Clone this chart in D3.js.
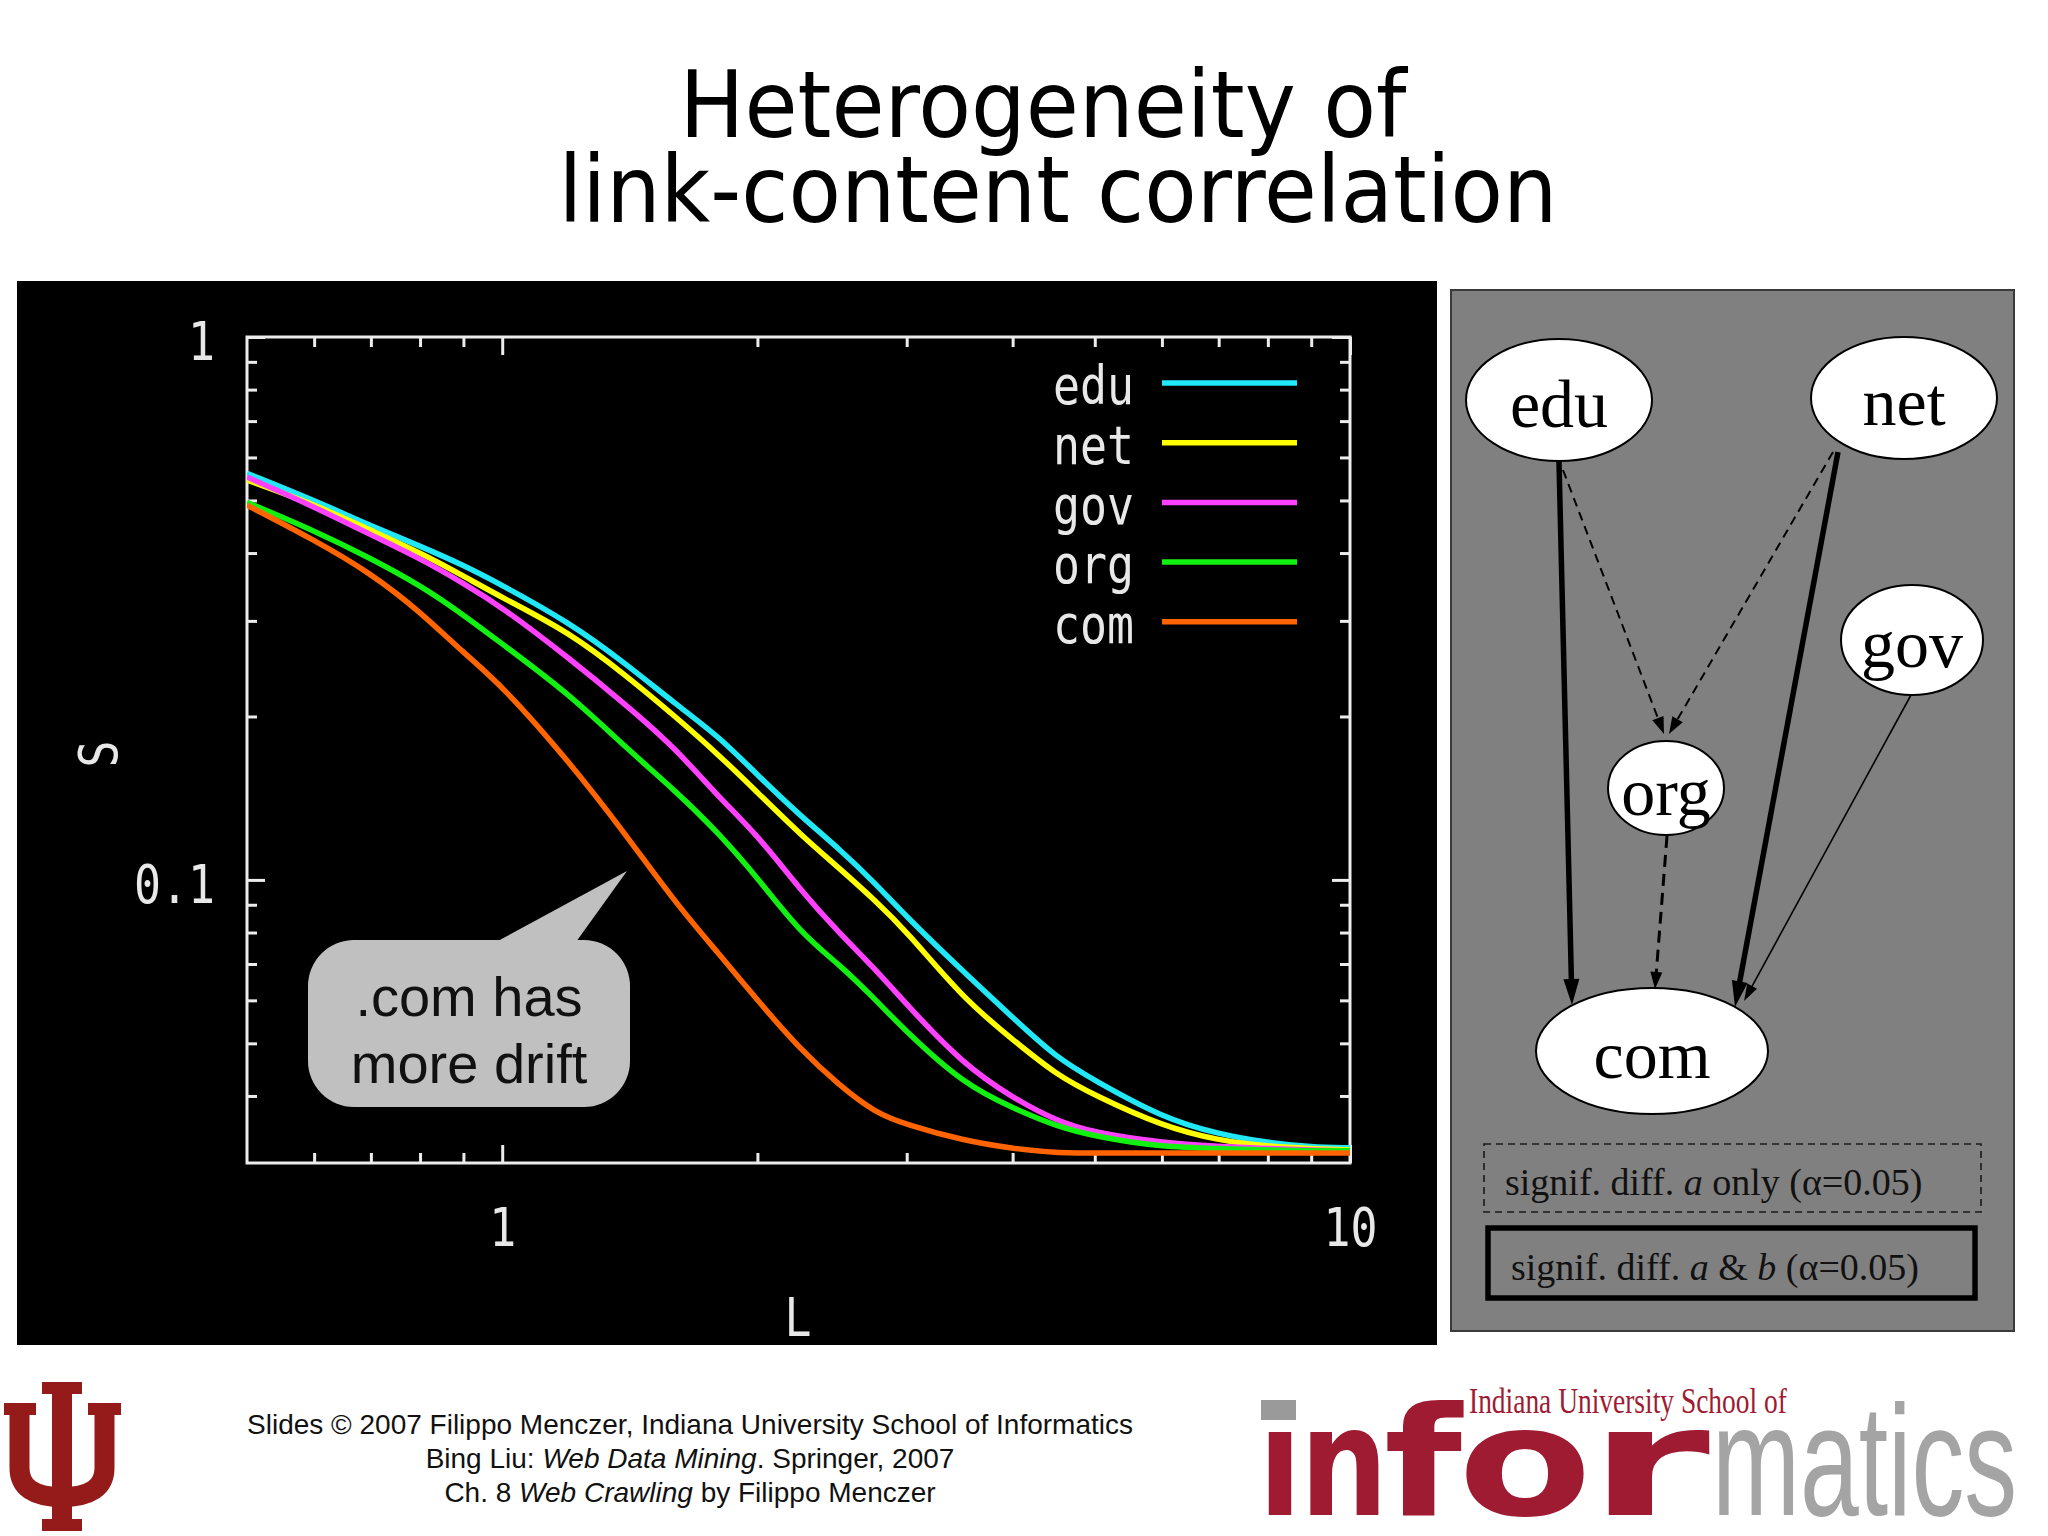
<!DOCTYPE html>
<html>
<head>
<meta charset="utf-8">
<script src="https://cdn.jsdelivr.net/npm/d3@7"></script>
<style>
body { margin: 0; background: #fff; }
svg { display: block; }
</style>
</head>
<body>
<div id="chart"></div>
<script>
// domains, in legend order
var domains = ["edu", "net", "gov", "org", "com"];
var lengths = [0.5, 0.6, 0.7, 0.8, 0.9, 1, 1.2, 1.4, 1.6, 1.8, 2, 2.25, 2.5, 2.75, 3, 3.5, 4, 4.5, 5, 6, 7, 8, 9, 10];
var sEdu = [0.561, 0.500, 0.449, 0.412, 0.380, 0.349, 0.298, 0.250, 0.211, 0.184, 0.156, 0.131, 0.114, 0.0988, 0.0854, 0.0677, 0.0558, 0.0471, 0.0427, 0.0365, 0.0340, 0.0328, 0.0322, 0.0321];
var sNet = [0.545, 0.492, 0.440, 0.401, 0.363, 0.331, 0.286, 0.238, 0.200, 0.170, 0.145, 0.121, 0.105, 0.0918, 0.0804, 0.0604, 0.0508, 0.0438, 0.0401, 0.0352, 0.0331, 0.0323, 0.0320, 0.0318];
var sGov = [0.552, 0.487, 0.432, 0.391, 0.352, 0.318, 0.256, 0.210, 0.175, 0.142, 0.121, 0.0956, 0.0797, 0.0687, 0.0589, 0.0457, 0.0397, 0.0360, 0.0342, 0.0328, 0.0323, 0.0320, 0.0318, 0.0317];
var sOrg = [0.496, 0.440, 0.391, 0.349, 0.308, 0.272, 0.220, 0.175, 0.146, 0.122, 0.101, 0.0797, 0.0698, 0.0604, 0.0524, 0.0421, 0.0380, 0.0352, 0.0337, 0.0322, 0.0320, 0.0318, 0.0317, 0.0317];
var sCom = [0.490, 0.423, 0.367, 0.312, 0.262, 0.228, 0.165, 0.121, 0.0908, 0.0732, 0.0600, 0.0486, 0.0418, 0.0373, 0.0354, 0.0331, 0.0320, 0.0314, 0.0314, 0.0314, 0.0314, 0.0314, 0.0314, 0.0314];

var xMajorTicks = [1, 10];
var xTickLabels = ["1", "10"];
var xMinorTicks = [0.6, 0.7, 0.8, 0.9, 2, 3, 4, 5, 6, 7, 8, 9];
var yMajorTicks = [1, 0.1];
var yTickLabels = ["1", "0.1"];
var yMinorTicks = [0.9, 0.8, 0.7, 0.6, 0.5, 0.4, 0.3, 0.2, 0.09, 0.08, 0.07, 0.06, 0.05, 0.04];

// significance graph between domains
var graphEdges = [["edu", "com", "ab"], ["net", "com", "ab"], ["gov", "com", "plain"],
                  ["edu", "org", "a"], ["net", "org", "a"], ["org", "com", "a"]];

var lineColors = ["#20e8f6", "#ffff00", "#ff40ff", "#12f012", "#ff6400"];
var series = [sEdu, sNet, sGov, sOrg, sCom];

var svg = d3.select("#chart").append("svg")
	.attr("width", 2048)
	.attr("height", 1536);

// stretch or squash a text horizontally to a given width
function fitText(sel, x0, y0, width) {
	sel.attr("x", 0).attr("y", 0)
		.attr("transform", function() {
			var w = this.getComputedTextLength();
			return "translate(" + x0 + "," + y0 + ") scale(" + (width / w) + ",1)";
		});
}

// title
var title = svg.append("g")
	.attr("font-family", "'DejaVu Sans', sans-serif")
	.attr("font-size", 92)
	.attr("text-anchor", "middle")
	.attr("fill", "#000");
title.append("text").attr("x", 1043).attr("y", 137)
	.attr("textLength", 727).attr("lengthAdjust", "spacingAndGlyphs")
	.text("Heterogeneity of");
title.append("text").attr("x", 1058).attr("y", 222)
	.attr("textLength", 999).attr("lengthAdjust", "spacingAndGlyphs")
	.text("link-content correlation");

// ---- left: gnuplot-style chart ----
svg.append("rect")
	.attr("x", 17).attr("y", 281)
	.attr("width", 1420).attr("height", 1064)
	.attr("fill", "#000");

var x = d3.scaleLog().domain([0.5, 10]).range([247, 1350]);
var y = d3.scaleLog().domain([0.0301, 1]).range([1163, 337]);

var monoFont = "'DejaVu Sans Mono', monospace";
var charW = 27;
function squeeze(sel) {
	sel.attr("font-family", monoFont)
		.attr("font-size", 53)
		.attr("fill", "#e8e8e8")
		.attr("textLength", function() { return this.textContent.length * charW; })
		.attr("lengthAdjust", "spacingAndGlyphs");
}

function drawAxis(axis, tx, ty) {
	var g = svg.append("g")
		.attr("transform", "translate(" + tx + "," + ty + ")")
		.attr("color", "#ececec")
		.call(axis);
	g.select(".domain").remove();
	g.selectAll(".tick line").attr("stroke-width", 3);
	g.selectAll(".tick text").call(squeeze);
	return g;
}

// major ticks with labels
drawAxis(d3.axisBottom(x).tickValues(xMajorTicks)
	.tickFormat(function(d, i) { return xTickLabels[i]; })
	.tickSize(-18).tickSizeOuter(0).tickPadding(45), 0, 1163);
drawAxis(d3.axisLeft(y).tickValues(yMajorTicks)
	.tickFormat(function(d, i) { return yTickLabels[i]; })
	.tickSize(-18).tickSizeOuter(0).tickPadding(32), 247, 0)
	.selectAll(".tick text").attr("dy", "0.43em");
drawAxis(d3.axisTop(x).tickValues(xMajorTicks).tickFormat("").tickSize(-18).tickSizeOuter(0), 0, 337);
drawAxis(d3.axisRight(y).tickValues(yMajorTicks).tickFormat("").tickSize(-18).tickSizeOuter(0), 1350, 0);
// minor ticks
drawAxis(d3.axisBottom(x).tickValues(xMinorTicks).tickFormat("").tickSize(-10).tickSizeOuter(0), 0, 1163);
drawAxis(d3.axisTop(x).tickValues(xMinorTicks).tickFormat("").tickSize(-10).tickSizeOuter(0), 0, 337);
drawAxis(d3.axisLeft(y).tickValues(yMinorTicks).tickFormat("").tickSize(-10).tickSizeOuter(0), 247, 0);
drawAxis(d3.axisRight(y).tickValues(yMinorTicks).tickFormat("").tickSize(-10).tickSizeOuter(0), 1350, 0);

svg.append("rect")
	.attr("x", 247).attr("y", 337)
	.attr("width", 1103).attr("height", 826)
	.attr("fill", "none")
	.attr("stroke", "#ececec")
	.attr("stroke-width", 3);

// axis titles
svg.append("text")
	.attr("transform", "translate(98,754) rotate(-90)")
	.attr("text-anchor", "middle").attr("dy", "0.35em")
	.text("S").call(squeeze);
svg.append("text")
	.attr("x", 798).attr("y", 1317)
	.attr("text-anchor", "middle").attr("dy", "0.35em")
	.text("L").call(squeeze);

// curves
svg.append("clipPath").attr("id", "plotClip")
	.append("rect").attr("x", 247).attr("y", 337).attr("width", 1106).attr("height", 826);

var line = d3.line()
	.x(function(d) { return x(d[0]); })
	.y(function(d) { return y(d[1]); })
	.curve(d3.curveBasis);

svg.append("g").attr("clip-path", "url(#plotClip)")
	.selectAll("path")
	.data(domains)
	.join("path")
	.attr("d", function(d, i) { return line(d3.zip(lengths, series[i])); })
	.attr("fill", "none")
	.attr("stroke", function(d, i) { return lineColors[i]; })
	.attr("stroke-width", 5.5)
	.attr("stroke-linejoin", "round");

// legend
var legend = svg.append("g").selectAll("g")
	.data(domains)
	.join("g")
	.attr("transform", function(d, i) { return "translate(0," + (383 + i * 59.7) + ")"; });
legend.append("line")
	.attr("x1", 1162).attr("x2", 1297)
	.attr("stroke", function(d, i) { return lineColors[i]; })
	.attr("stroke-width", 5.5);
legend.append("text")
	.attr("x", 1134).attr("dy", "0.4em")
	.attr("text-anchor", "end")
	.text(function(d) { return d; })
	.call(squeeze);

// callout bubble
var bubble = svg.append("g");
bubble.append("rect")
	.attr("x", 308).attr("y", 940)
	.attr("width", 322).attr("height", 167)
	.attr("rx", 46)
	.attr("fill", "#c0c0c0");
bubble.append("path")
	.attr("d", "M496,942L627,871L576,942Z")
	.attr("fill", "#c0c0c0");
bubble.selectAll("text")
	.data([".com has", "more drift"])
	.join("text")
	.attr("x", 469)
	.attr("y", function(d, i) { return 1016 + i * 67; })
	.attr("text-anchor", "middle")
	.attr("font-family", "'Liberation Sans', Arial, sans-serif")
	.attr("font-size", 56)
	.attr("fill", "#111")
	.text(function(d) { return d; });

// ---- right: significance graph ----
svg.append("rect")
	.attr("x", 1451).attr("y", 290)
	.attr("width", 563).attr("height", 1041)
	.attr("fill", "#808080")
	.attr("stroke", "#3a3a3a")
	.attr("stroke-width", 2);

var nodeLayout = {
	edu: { cx: 1559, cy: 400, rx: 93, ry: 61 },
	net: { cx: 1904, cy: 398, rx: 93, ry: 61 },
	gov: { cx: 1912, cy: 640, rx: 71, ry: 55 },
	org: { cx: 1666, cy: 788, rx: 58, ry: 47 },
	com: { cx: 1652, cy: 1051, rx: 116, ry: 63 }
};
var edgeLayout = {
	"edu-com": [1559, 462, 1572, 1005],
	"net-com": [1838, 452, 1735, 1007],
	"gov-com": [1911, 695, 1744, 1001],
	"edu-org": [1563, 470, 1664, 734],
	"net-org": [1833, 452, 1669, 734],
	"org-com": [1667, 836, 1655, 989]
};
var edgeStyle = {
	ab: { width: 5.5, dash: null, head: [26, 16] },
	a: { width: 2, dash: "9,6", head: [17, 12] },
	plain: { width: 1.6, dash: null, head: [17, 11] }
};

var graph = svg.append("g");
graphEdges.forEach(function(e) {
	var p = edgeLayout[e[0] + "-" + e[1]];
	var st = edgeStyle[e[2]];
	var dx = p[2] - p[0], dy = p[3] - p[1];
	var len = Math.sqrt(dx * dx + dy * dy);
	var ux = dx / len, uy = dy / len;
	var hl = st.head[0], hw = st.head[1] / 2;
	var bx = p[2] - ux * hl, by = p[3] - uy * hl;
	var w = (e[0] === "org") ? 3 : st.width;
	graph.append("line")
		.attr("x1", p[0]).attr("y1", p[1])
		.attr("x2", bx + ux * 2).attr("y2", by + uy * 2)
		.attr("stroke", "#000")
		.attr("stroke-width", w)
		.attr("stroke-dasharray", e[0] === "org" ? "12,7" : st.dash);
	graph.append("path")
		.attr("d", "M" + p[2] + "," + p[3] +
			"L" + (bx - uy * hw) + "," + (by + ux * hw) +
			"L" + (bx + uy * hw) + "," + (by - ux * hw) + "Z")
		.attr("fill", "#000");
});

var nodes = graph.selectAll("g.node")
	.data(domains)
	.join("g")
	.attr("class", "node");
nodes.append("ellipse")
	.attr("cx", function(d) { return nodeLayout[d].cx; })
	.attr("cy", function(d) { return nodeLayout[d].cy; })
	.attr("rx", function(d) { return nodeLayout[d].rx; })
	.attr("ry", function(d) { return nodeLayout[d].ry; })
	.attr("fill", "#fff")
	.attr("stroke", "#000")
	.attr("stroke-width", 2);
nodes.append("text")
	.attr("x", function(d) { return nodeLayout[d].cx; })
	.attr("y", function(d) { return nodeLayout[d].cy + 27; })
	.attr("text-anchor", "middle")
	.attr("font-family", "'Liberation Serif', 'Times New Roman', serif")
	.attr("font-size", 68)
	.attr("fill", "#000")
	.text(function(d) { return d; });

// graph legend
var serif = "'Liberation Serif', 'Times New Roman', serif";
svg.append("rect")
	.attr("x", 1484).attr("y", 1144).attr("width", 497).attr("height", 68)
	.attr("fill", "none").attr("stroke", "#1a1a1a")
	.attr("stroke-width", 1.6).attr("stroke-dasharray", "7,5");
svg.append("rect")
	.attr("x", 1488).attr("y", 1228).attr("width", 487).attr("height", 70)
	.attr("fill", "none").attr("stroke", "#000")
	.attr("stroke-width", 5.5);
var lg1 = svg.append("text").attr("x", 1505).attr("y", 1195)
	.attr("font-family", serif).attr("font-size", 38).attr("fill", "#111");
lg1.append("tspan").text("signif. diff. ");
lg1.append("tspan").attr("font-style", "italic").text("a");
lg1.append("tspan").text(" only (\u03b1=0.05)");
var lg2 = svg.append("text").attr("x", 1511).attr("y", 1280)
	.attr("font-family", serif).attr("font-size", 38).attr("fill", "#111");
lg2.append("tspan").text("signif. diff. ");
lg2.append("tspan").attr("font-style", "italic").text("a");
lg2.append("tspan").text(" & ");
lg2.append("tspan").attr("font-style", "italic").text("b");
lg2.append("tspan").text(" (\u03b1=0.05)");

// ---- footer ----
var iu = "#951b1b";
var logo = svg.append("g").attr("fill", iu);
logo.append("path")
	.attr("d", "M19.5,1404V1468Q19.5,1497 62,1497Q104.5,1497 104.5,1468V1404")
	.attr("fill", "none").attr("stroke", iu).attr("stroke-width", 20);
logo.append("rect").attr("x", 52).attr("y", 1382).attr("width", 20).attr("height", 149);
logo.append("rect").attr("x", 42).attr("y", 1382).attr("width", 40).attr("height", 12);
logo.append("rect").attr("x", 4).attr("y", 1403).attr("width", 32).attr("height", 12);
logo.append("rect").attr("x", 88).attr("y", 1403).attr("width", 33).attr("height", 12);
logo.append("rect").attr("x", 42).attr("y", 1519).attr("width", 40).attr("height", 12);

var foot = svg.append("g")
	.attr("font-family", "'Liberation Sans', Arial, sans-serif")
	.attr("font-size", 28)
	.attr("fill", "#111")
	.attr("text-anchor", "middle");
foot.append("text").attr("x", 690).attr("y", 1434)
	.text("Slides \u00a9 2007 Filippo Menczer, Indiana University School of Informatics");
var f2 = foot.append("text").attr("x", 690).attr("y", 1468);
f2.append("tspan").text("Bing Liu: ");
f2.append("tspan").attr("font-style", "italic").text("Web Data Mining");
f2.append("tspan").text(". Springer, 2007");
var f3 = foot.append("text").attr("x", 690).attr("y", 1502);
f3.append("tspan").text("Ch. 8 ");
f3.append("tspan").attr("font-style", "italic").text("Web Crawling");
f3.append("tspan").text(" by Filippo Menczer");

// informatics wordmark
var crimson = "#9e1b32";
svg.append("text")
	.attr("font-family", serif).attr("font-size", 36).attr("fill", crimson)
	.text("Indiana University School of")
	.call(fitText, 1469, 1413, 318);
svg.append("rect").attr("x", 1261).attr("y", 1400).attr("width", 35).attr("height", 20).attr("fill", "#9a9a9a");
var wordLetters = [["\u0131", 1258, 44], ["n", 1300, 88], ["f", 1384, 78], ["o", 1458, 134], ["r", 1588, 122]];
var word = svg.append("g")
	.attr("font-family", "'DejaVu Sans', sans-serif").attr("font-weight", "bold")
	.attr("font-size", 152).attr("fill", crimson);
wordLetters.forEach(function(l) {
	word.append("text").text(l[0]).call(fitText, l[1], 1515, l[2]);
});
svg.append("text")
	.attr("font-family", "'Liberation Sans', Arial, sans-serif")
	.attr("font-size", 158).attr("fill", "#a4a4a4")
	.text("matics")
	.call(fitText, 1712, 1515, 305);
</script>
</body>
</html>
